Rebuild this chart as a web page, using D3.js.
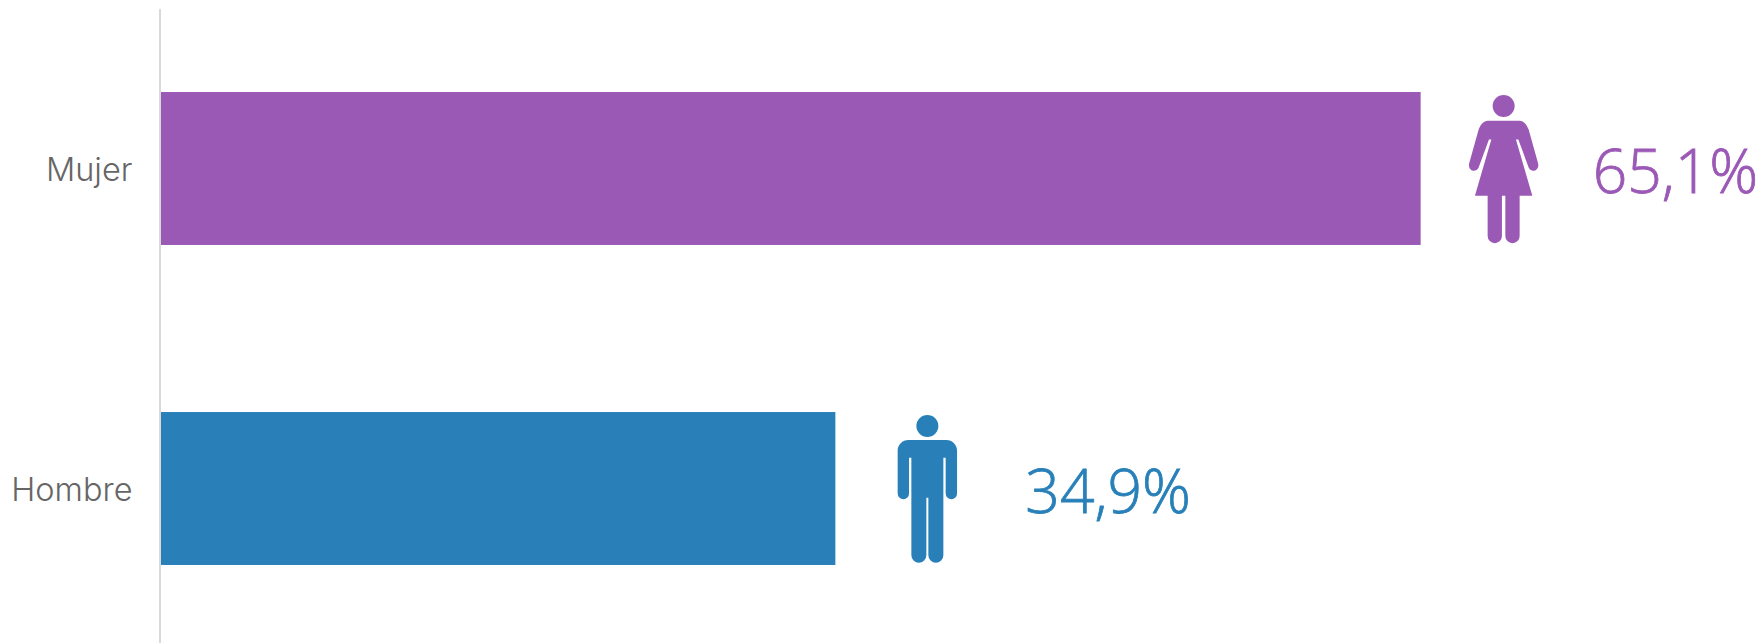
<!DOCTYPE html>
<html>
<head>
<meta charset="utf-8">
<script src="https://cdn.jsdelivr.net/npm/d3@7"></script>
<style>
  html, body { margin: 0; background: #fff; }
  svg { display: block; }
  .domain { stroke: #d9d9d9; stroke-width: 2; }
  .tick text { font-family: Inter, sans-serif; font-weight: 300; font-size: 32.5px; fill: #666; }
  .val { font-family: "Open Sans", sans-serif; font-weight: 300; font-size: 60.5px; stroke-width: .8; }
</style>
</head>
<body>
<div id="graph"></div>
<script>
var width = 1760, height = 643

var categories = ['Mujer', 'Hombre']
var values = [65.1, 34.9]
var valueLabels = ['65,1%', '34,9%']
var colors = ['#9b59b6', '#2980b9']

// pictograms, drawn around the band centre
var icons = [
  'M-15.7,-47.8 H15.7 C20,-47.8 23,-44 25,-39 L34.5,-5 C36,2 28,5 25,-1 L14.7,-29 H12.3 L28.7,27.2 H16 V67.5 A7.15,7.15 0 0 1 1.7,67.5 V27.2 H-1.7 V67.5 A7.15,7.15 0 0 1 -16,67.5 V27.2 H-28.7 L-12.3,-29 H-14.7 L-25,-1 C-28,5 -36,2 -34.5,-5 L-25,-39 C-23,-44 -20,-47.8 -15.7,-47.8 Z',
  'M-19,-48.5 H19 C25,-48.5 29.7,-43.5 29.7,-38 V5 A5.7,5.7 0 0 1 18.3,5 V-30.8 H16 V66.7 A7.5,7.5 0 0 1 1,66.7 V9.2 H-1 V66.7 A7.5,7.5 0 0 1 -16,66.7 V-30.8 H-18.3 V5 A5.7,5.7 0 0 1 -29.7,5 V-38 C-29.7,-43.5 -25,-48.5 -19,-48.5 Z'
]
var iconOffsets = [83, 92]
var labelOffsets = [172, 190]

var x = d3.scaleLinear().domain([0, 100]).range([159, 2097])
var y = d3.scaleBand().domain(categories).range([8.5, 648.5])
    .paddingInner(.522).paddingOuter(.261)

var svg = d3.select('#graph').html('').append('svg')
    .attr('width', width)
    .attr('height', height)

var rows = categories.map(function(d, i){
  return {name: d, value: values[i], label: valueLabels[i], color: colors[i], icon: icons[i], i: i}
})

svg.selectAll('rect.bar').data(rows).enter().append('rect')
    .attr('class', 'bar')
    .attr('x', x(0))
    .attr('y', function(d){ return y(d.name) })
    .attr('width', function(d){ return x(d.value) - x(0) })
    .attr('height', y.bandwidth())
    .attr('fill', function(d){ return d.color })

// axis goes over the bars, they show from its right edge on
var yAxis = svg.append('g')
    .attr('transform', 'translate(159.5,0)')
    .call(d3.axisLeft(y).tickSize(0).tickSizeOuter(0).tickPadding(27))

yAxis.selectAll('.tick text').attr('dy', '0.39em')

var icon = svg.selectAll('g.icon').data(rows).enter().append('g')
    .attr('class', 'icon')
    .attr('fill', function(d){ return d.color })
    .attr('transform', function(d){
      return 'translate(' + (x(d.value) + iconOffsets[d.i]) + ',' + (y(d.name) + y.bandwidth() / 2) + ')'
    })

icon.append('circle').attr('cy', -62.5).attr('r', 11)
icon.append('path').attr('d', function(d){ return d.icon })

svg.selectAll('text.val').data(rows).enter().append('text')
    .attr('class', 'val')
    .attr('x', function(d){ return x(d.value) + labelOffsets[d.i] })
    .attr('y', function(d){ return y(d.name) + y.bandwidth() / 2 + 24 })
    .attr('fill', function(d){ return d.color })
    .attr('stroke', function(d){ return d.color })
    .text(function(d){ return d.label })
</script>
</body>
</html>
